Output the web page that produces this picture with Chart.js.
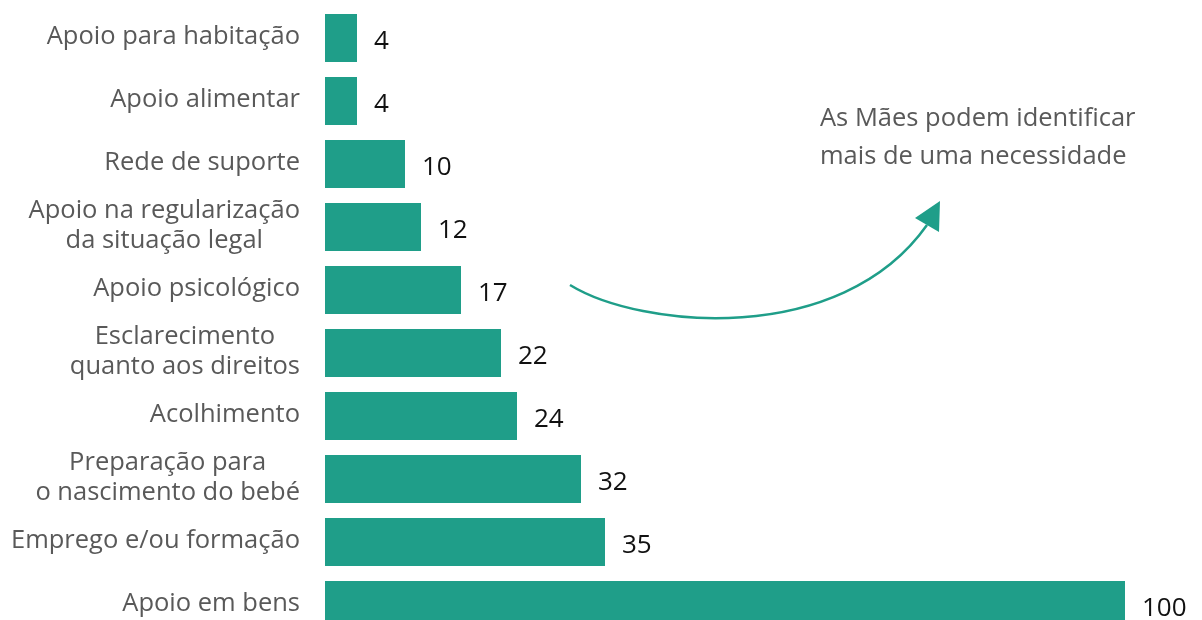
<!DOCTYPE html>
<html lang="pt">
<head>
    <meta charset="UTF-8">
    <title>Necessidades identificadas</title>
    <script src="https://cdn.jsdelivr.net/npm/chart.js"></script>
    <style>
        html, body { margin: 0; padding: 0; background: #fff; overflow: hidden; }
        #wrap { width: 1202px; height: 640px; }
    </style>
</head>
<body>
    <div id="wrap"><canvas id="needsChart" width="1202" height="640"></canvas></div>
    <script>
        // categories top to bottom, multi-line labels as arrays
        var categories = [
            ['Apoio para habitação'],
            ['Apoio alimentar'],
            ['Rede de suporte'],
            ['Apoio na regularização', 'da situação legal'],
            ['Apoio psicológico'],
            ['Esclarecimento', 'quanto aos direitos'],
            ['Acolhimento'],
            ['Preparação para', 'o nascimento do bebé'],
            ['Emprego e/ou formação'],
            ['Apoio em bens']
        ];
        var values = [4, 4, 10, 12, 17, 22, 24, 32, 35, 100];
        var noteLines = ['As Mães podem identificar', 'mais de uma necessidade'];

        var teal = '#1f9e89';
        var fontName = '"Open Sans", sans-serif';

        // category names, right-aligned block with each line centred
        var labelPlugin = {
            id: 'catLabels',
            afterDraw: function(chart) {
                var ctx = chart.ctx;
                var yScale = chart.scales.y;
                ctx.save();
                ctx.font = '25.5px ' + fontName;
                ctx.fillStyle = '#595959';
                ctx.textAlign = 'center';
                ctx.textBaseline = 'middle';
                var rightEdge = chart.chartArea.left - 25;
                categories.forEach(function(lines, i) {
                    var cy = yScale.getPixelForValue(i);
                    var w = Math.max.apply(null, lines.map(function(l) { return ctx.measureText(l).width; }));
                    var cx = rightEdge - w / 2;
                    var lh = 30;
                    var start = cy - 1 - (lines.length - 1) * lh / 2;
                    lines.forEach(function(l, j) {
                        ctx.fillText(l, cx, start + j * lh);
                    });
                });
                ctx.restore();
            }
        };

        // value next to the end of each bar
        var valuePlugin = {
            id: 'valueLabels',
            afterDatasetsDraw: function(chart) {
                var ctx = chart.ctx;
                var meta = chart.getDatasetMeta(0);
                ctx.save();
                ctx.font = '26px ' + fontName;
                ctx.fillStyle = '#111';
                ctx.textAlign = 'left';
                ctx.textBaseline = 'middle';
                meta.data.forEach(function(bar, i) {
                    ctx.fillText(String(values[i]), bar.x + 17, bar.y + 4);
                });
                ctx.restore();
            }
        };

        // note with a curved arrow
        var notePlugin = {
            id: 'note',
            afterDraw: function(chart) {
                var ctx = chart.ctx;
                ctx.save();
                ctx.font = '25.5px ' + fontName;
                ctx.fillStyle = '#595959';
                ctx.textAlign = 'left';
                ctx.textBaseline = 'middle';
                ctx.fillText(noteLines[0], 820, 119);
                ctx.fillText(noteLines[1], 820, 157);

                ctx.strokeStyle = teal;
                ctx.lineWidth = 2.5;
                ctx.beginPath();
                ctx.moveTo(570, 285);
                ctx.bezierCurveTo(640, 328, 840, 348, 927, 225);
                ctx.stroke();

                ctx.fillStyle = teal;
                ctx.beginPath();
                ctx.moveTo(940, 201);
                ctx.lineTo(915, 218);
                ctx.lineTo(939, 232);
                ctx.closePath();
                ctx.fill();
                ctx.restore();
            }
        };

        var ctx = document.getElementById('needsChart').getContext('2d');
        var needsChart = new Chart(ctx, {
            type: 'bar',
            data: {
                labels: categories,
                datasets: [{
                    data: values,
                    backgroundColor: teal,
                    borderWidth: 0,
                    barPercentage: 0.762,
                    categoryPercentage: 1
                }]
            },
            options: {
                indexAxis: 'y',
                responsive: false,
                animation: false,
                layout: { padding: { left: 325, right: 77, top: 6.5, bottom: 3.5 } },
                plugins: { legend: { display: false }, tooltip: { enabled: false } },
                scales: {
                    x: { display: false, min: 0, max: 100 },
                    y: { display: false, offset: true }
                }
            },
            plugins: [labelPlugin, valuePlugin, notePlugin]
        });
    </script>
</body>
</html>
